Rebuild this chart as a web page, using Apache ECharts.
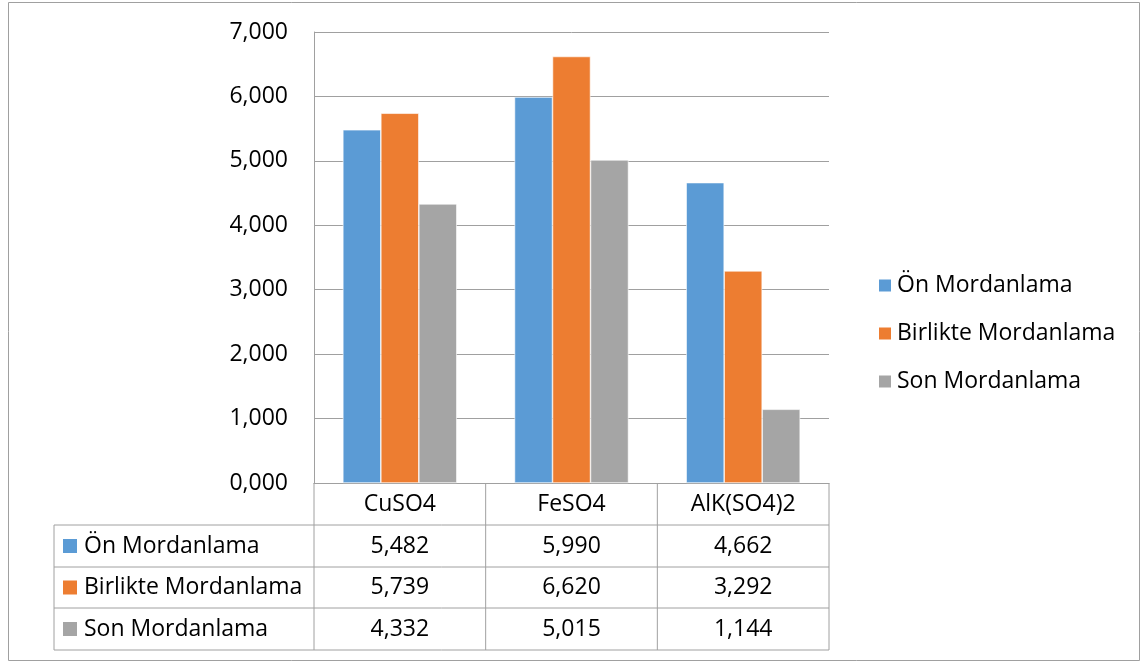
<!DOCTYPE html>
<html>
<head>
<meta charset="utf-8">
<script src="https://cdn.jsdelivr.net/npm/echarts@6/dist/echarts.min.js"></script>
<style>
html,body{margin:0;padding:0;background:#fff;}
#main{width:1143px;height:663px;}
</style>
</head>
<body>
<div id="main"></div>
<script>
var categories = ['CuSO4', 'FeSO4', 'AlK(SO4)2'];
var seriesNames = ['Ön Mordanlama', 'Birlikte Mordanlama', 'Son Mordanlama'];
var onValues = [5.482, 5.990, 4.662];
var birlikteValues = [5.739, 6.620, 3.292];
var sonValues = [4.332, 5.015, 1.144];
var colors = ['#5B9BD5', '#ED7D31', '#A5A5A5'];
var yMin = 0, yMax = 7, yInterval = 1;

var FONT = '"Open Sans", "Noto Sans", sans-serif';
var FS = 23;
var fmt = function (v) { return v.toFixed(3).replace('.', ','); };
var allValues = [onValues, birlikteValues, sonValues];

var chart = echarts.init(document.getElementById('main'));
var GL = 314, GR = 829, GT = 32, GB = 483;

var option = {
  animation: false,
  backgroundColor: '#fff',
  grid: { left: GL, top: GT, width: GR - GL, height: GB - GT, containLabel: false },
  legend: {
    orient: 'vertical',
    left: 872, top: 269,
    itemWidth: 14, itemHeight: 14, itemGap: 25,
    icon: 'rect',
    textStyle: { fontFamily: FONT, fontSize: FS, color: '#000', lineHeight: 23 },
    data: seriesNames
  },
  xAxis: {
    type: 'category', data: categories,
    axisLine: { show: true, lineStyle: { color: '#a0a0a0', width: 1 } },
    axisTick: { show: false },
    axisLabel: { show: false }
  },
  yAxis: {
    type: 'value', min: yMin, max: yMax, interval: yInterval,
    axisLine: { show: true, lineStyle: { color: '#a0a0a0', width: 1 } },
    axisTick: { show: false },
    splitLine: { lineStyle: { color: '#a0a0a0', width: 1 } },
    axisLabel: { fontFamily: FONT, fontSize: FS, color: '#000', margin: 26, formatter: fmt }
  },
  series: seriesNames.map(function (n, i) {
    return {
      name: n, type: 'bar', data: allValues[i],
      barGap: '0%', barCategoryGap: '33.6%',
      itemStyle: { color: colors[i], borderColor: '#fff', borderWidth: 0.6 }
    };
  }),
  graphic: []
};
chart.setOption(option);

// Build data table below the plot
var g = [];
var lineColor = '#a0a0a0';
function hline(x1, x2, y) { g.push({ type: 'line', silent: true, shape: { x1: x1, y1: y, x2: x2, y2: y }, style: { stroke: lineColor, lineWidth: 1 } }); }
function vline(x, y1, y2) { g.push({ type: 'line', silent: true, shape: { x1: x, y1: y1, x2: x, y2: y2 }, style: { stroke: lineColor, lineWidth: 1 } }); }
var TL = 54;
var rowTops = [GB, 525, 567, 608, 650];
for (var r = 1; r < rowTops.length; r++) hline(TL, GR, rowTops[r]);
vline(TL, 525, 650);
var step = (GR - GL) / categories.length;
for (var c = 0; c <= categories.length; c++) vline(GL + c * step, GB, 650);
categories.forEach(function (cat, ci) {
  var cx = chart.convertToPixel({ xAxisIndex: 0 }, cat);
  g.push({ type: 'text', silent: true, x: cx, y: (rowTops[0] + rowTops[1]) / 2,
    style: { text: cat, fontFamily: FONT, fontSize: FS, fill: '#000', align: 'center', verticalAlign: 'middle' } });
  allValues.forEach(function (vals, si) {
    g.push({ type: 'text', silent: true, x: cx, y: (rowTops[si + 1] + rowTops[si + 2]) / 2,
      style: { text: fmt(vals[ci]), fontFamily: FONT, fontSize: FS, fill: '#000', align: 'center', verticalAlign: 'middle' } });
  });
});
seriesNames.forEach(function (n, si) {
  var cy = (rowTops[si + 1] + rowTops[si + 2]) / 2;
  g.push({ type: 'rect', silent: true, shape: { x: 63, y: cy - 7, width: 14, height: 14 }, style: { fill: colors[si] } });
  g.push({ type: 'text', silent: true, x: 84, y: cy,
    style: { text: n, fontFamily: FONT, fontSize: FS, fill: '#000', align: 'left', verticalAlign: 'middle' } });
});
// outer chart border
g.push({ type: 'rect', silent: true, shape: { x: 8.5, y: 2.5, width: 1131, height: 658 }, style: { fill: 'none', stroke: '#a0a0a0', lineWidth: 1 } });
chart.setOption({ graphic: g });
</script>
</body>
</html>
